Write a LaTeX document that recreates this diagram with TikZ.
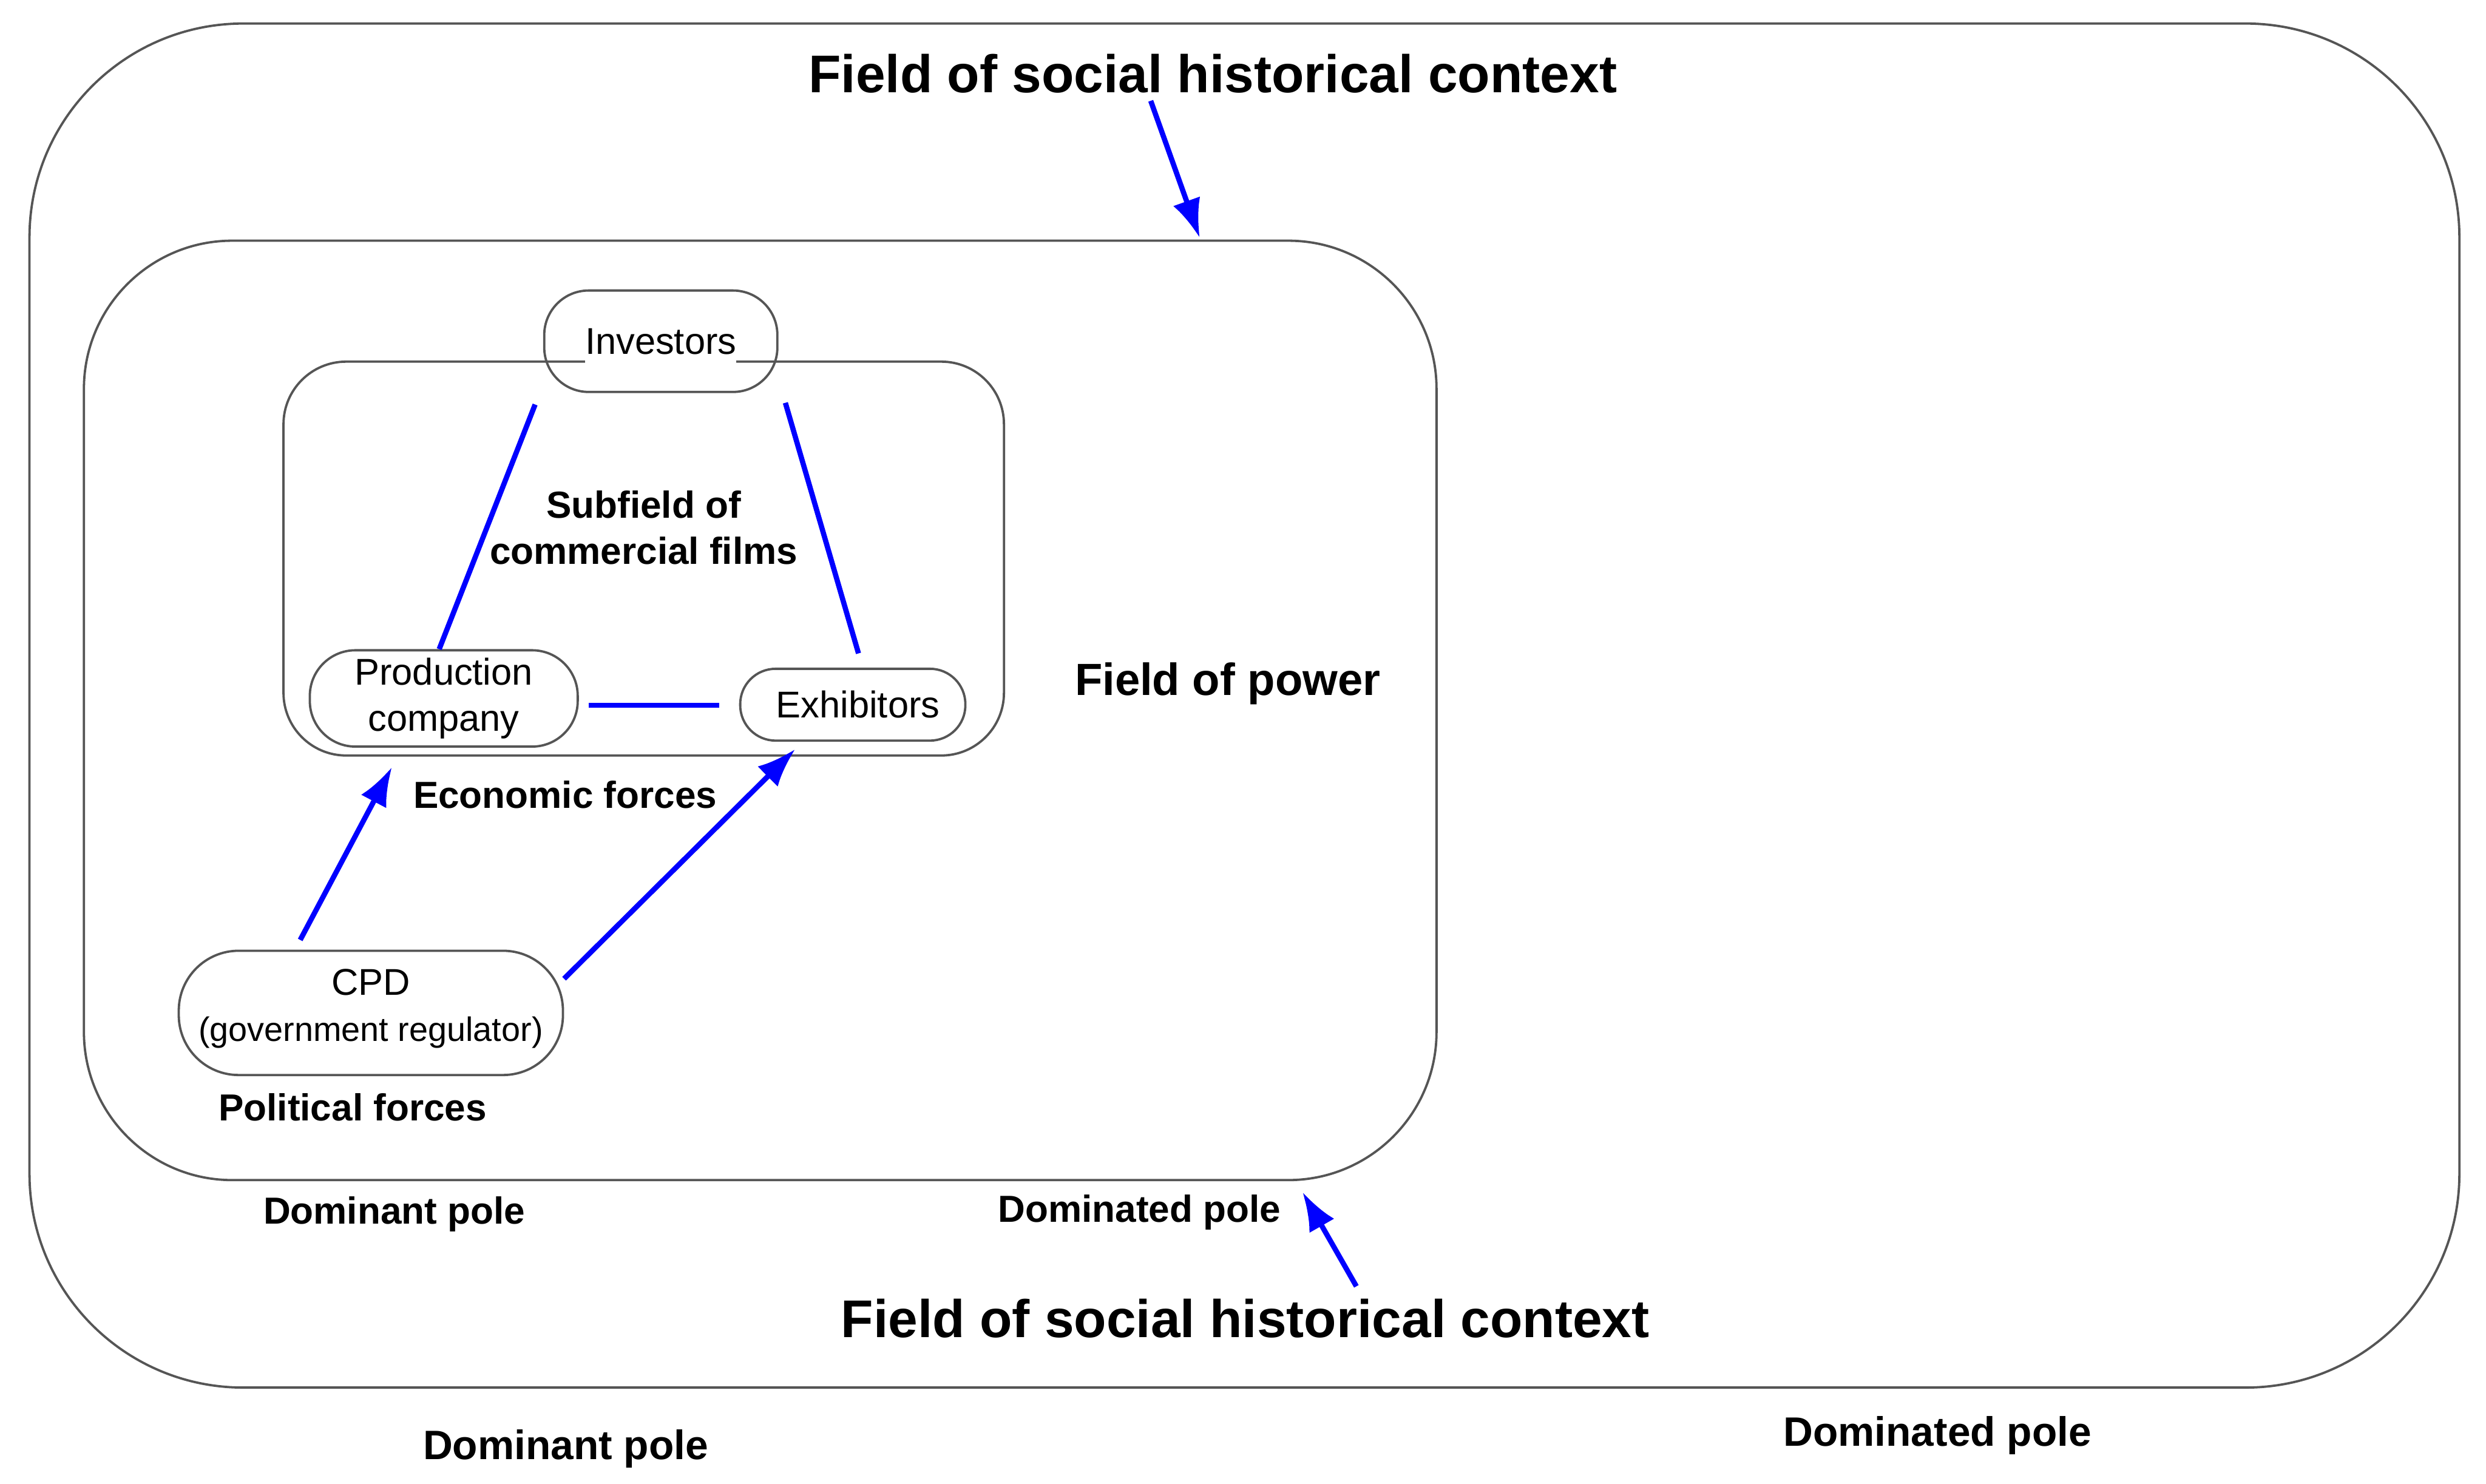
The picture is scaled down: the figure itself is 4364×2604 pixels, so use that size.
\documentclass[tikz,border=0pt]{standalone}
\usepackage{fontspec}
\setmainfont{Liberation Sans}
\usetikzlibrary{arrows.meta}
\definecolor{frame}{RGB}{85,85,85}
\definecolor{conn}{RGB}{0,0,255}
\setlength{\fboxsep}{0pt}
\begin{document}
\begin{tikzpicture}[x=0.01cm,y=-0.01cm,
  box/.style={draw=frame,line width=1.15pt,inner sep=0pt},
  actor/.style={box,align=center,font=\fontsize{18.6}{23}\selectfont},
  lbl/.style={inner sep=0pt,anchor=base,font=\bfseries\fontsize{18.8}{23}\selectfont},
  biglbl/.style={lbl,font=\bfseries\fontsize{26.5}{31}\selectfont},
  polelbl/.style={lbl,font=\bfseries\fontsize{20.5}{24}\selectfont},
  link/.style={conn,line width=2.6pt},
  push/.style={link,-{Latex[length=0.68cm,width=0.5cm]}}
]
\useasboundingbox (0,0) rectangle (4364,2604);

% fields
\node[box,rounded corners=3.75cm,minimum width=42.63cm,minimum height=23.93cm] (ctx) at (2184.5,1238.5) {};
\node[box,rounded corners=2.6cm,minimum width=23.73cm,minimum height=16.48cm] (power) at (1334.5,1247) {};
\node[box,rounded corners=1.1cm,minimum width=12.64cm,minimum height=6.91cm] (sub) at (1130,980.5) {};

% actors
\node[actor,rounded corners=0.78cm,minimum width=4.09cm,minimum height=1.78cm] (inv) at (1160,599)
  {\colorbox{white}{\rule[-0.3em]{0pt}{1.3em}Investors}};
\node[actor,rounded corners=0.8cm,minimum width=4.70cm,minimum height=1.69cm] (prod) at (779,1226)
  {Production\\company};
\node[actor,rounded corners=0.62cm,minimum width=3.95cm,minimum height=1.26cm] (exh) at (1497,1237)
  {\hspace*{0.18cm}Exhibitors};
\node[actor,rounded corners=1.05cm,minimum width=6.74cm,minimum height=2.18cm] (cpd) at (651,1778)
  {CPD\\{\fontsize{16.9}{21}\selectfont (government regulator)\rule[-8pt]{0pt}{8pt}}};

% labels
\node[biglbl] (ctxtop) at (2129,162) {Field of social historical context};
\node[biglbl] (ctxbot) at (2186,2348) {Field of social historical context};
\node[lbl,font=\bfseries\fontsize{22.5}{27}\selectfont] (fpower) at (2155,1220) {Field of power};
\node[lbl,anchor=center,align=center] (subname) at (1130,926) {Subfield of\\commercial films};
\node[lbl] (econ) at (992,1419) {Economic forces};
\node[lbl] (pol) at (619,1967) {Political forces};
\node[lbl] (dom1) at (692,2148) {Dominant pole};
\node[lbl] (domd1) at (2000,2145) {Dominated pole};
\node[polelbl] (dom2) at (993,2562) {Dominant pole};
\node[polelbl] (domd2) at (3401,2538) {Dominated pole};

% connectors
\draw[link] ([shift={(-14,20)}]inv.south west) -- ([shift={(-8,0)}]prod.north);
\draw[link] ([shift={(12,17)}]inv.south east) -- ([shift={(10,-25)}]exh.north);
\draw[link] ([shift={(17,12)}]prod.east) -- ([shift={(-35,1)}]exh.west);
\draw[push] ([shift={(-124,-17)}]cpd.north) -- ([shift={(-91,34)}]prod.south);
\draw[push] ([shift={(0,-60)}]cpd.east) -- ([shift={(-101,13)}]exh.south);
\draw[push] ([shift={(-109,15)}]ctxtop.base) -- ([shift={(771.5,-3)}]power.north);
\draw[push] ([shift={(195,-90)}]ctxbot.base) -- ([shift={(952,19)}]power.south);
\end{tikzpicture}
\end{document}
